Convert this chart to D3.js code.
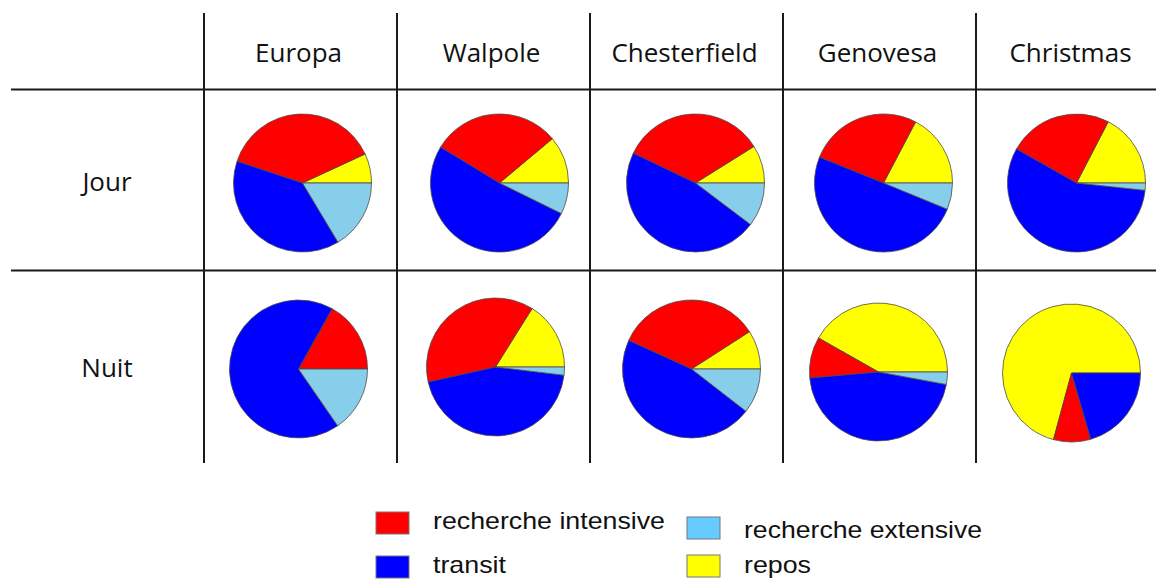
<!DOCTYPE html>
<html lang="fr">
<head>
    <meta charset="utf-8">
    <title>Budget d'activité</title>
    <script src="https://d3js.org/d3.v7.min.js"></script>
    <style>
        body { margin: 0; background: #fff; }
    </style>
</head>
<body>

<script>
    const sites = ["Europa", "Walpole", "Chesterfield", "Genovesa", "Christmas"];
    const periods = ["Jour", "Nuit"];
    const activities = ["repos", "recherche intensive", "transit", "recherche extensive"];

    // % of time, per site (same order as sites)
    const jourRepos     = [6.9, 11.1, 8.9, 17.3, 17.4];
    const jourIntensive = [38.0, 30.2, 34.0, 26.6, 24.4];
    const jourTransit   = [38.7, 51.4, 46.8, 49.9, 56.5];
    const jourExtensive = [16.4, 7.3, 10.3, 6.2, 1.7];

    const nuitRepos     = [0, 16.1, 9.1, 41.8, 70.8];
    const nuitIntensive = [16.9, 37.4, 34.1, 9.6, 8.7];
    const nuitTransit   = [67.7, 44.6, 46.3, 45.7, 20.5];
    const nuitExtensive = [15.4, 1.9, 10.5, 2.9, 0];

    const legendOrder = ["recherche intensive", "transit", "recherche extensive", "repos"];

    const W = 1156, H = 579;
    const radius = 69;

    const color = d3.scaleOrdinal()
            .domain(activities)
            .range(["#ffff00", "#ff0000", "#0000ff", "#87ceeb"]);
    const legendColor = d3.scaleOrdinal()
            .domain(activities)
            .range(["#ffff00", "#ff0000", "#0000ff", "#66ccff"]);

    const x = d3.scaleBand().domain(sites).range([204, 1169]);
    const y = d3.scaleOrdinal().domain(periods).range([183, 369]);

    // small per-pie shifts from the cell centre [dx, dy]
    const nudge = {
        Jour: [[2, 0], [6, 0], [9, 0], [4, 0], [4, 0]],
        Nuit: [[-2, 0], [2, -2], [5, 0], [-1, 3], [-1, 4]]
    };

    const rows = {
        Jour: sites.map((s, i) => [jourRepos[i], jourIntensive[i], jourTransit[i], jourExtensive[i]]),
        Nuit: sites.map((s, i) => [nuitRepos[i], nuitIntensive[i], nuitTransit[i], nuitExtensive[i]])
    };

    const svg = d3.select("body").append("svg")
            .attr("width", W).attr("height", H);

    // grid
    const grid = svg.append("g").attr("stroke", "#1a1a1a").attr("stroke-width", 2);
    sites.forEach(s => {
        grid.append("line")
                .attr("x1", x(s)).attr("x2", x(s))
                .attr("y1", 13).attr("y2", 463);
    });
    [89.5, 270.5].forEach(v => {
        grid.append("line")
                .attr("x1", 11).attr("x2", W)
                .attr("y1", v).attr("y2", v);
    });

    // column headers
    svg.append("g").selectAll("text")
            .data(sites).enter()
            .append("text")
            .attr("x", d => x(d) + x.bandwidth() / 2 - 2)
            .attr("y", 62)
            .attr("text-anchor", "middle")
            .style("font-family", "'Open Sans', sans-serif")
            .style("font-size", "26px")
            .style("fill", "#111")
            .text(d => d);

    // row labels
    svg.append("g").selectAll("text")
            .data(periods).enter()
            .append("text")
            .attr("x", 107)
            .attr("y", d => y(d) + 8)
            .attr("text-anchor", "middle")
            .style("font-family", "'Open Sans', sans-serif")
            .style("font-size", "26px")
            .style("fill", "#111")
            .text(d => d);

    // pies, counter-clockwise from 3 o'clock
    const pie = d3.pie()
            .sort(null)
            .value(d => d.v)
            .startAngle(Math.PI / 2)
            .endAngle(Math.PI / 2 - 2 * Math.PI);
    const arc = d3.arc().innerRadius(0).outerRadius(radius);

    periods.forEach(p => {
        sites.forEach((s, i) => {
            const vals = rows[p][i].map((v, k) => ({ a: activities[k], v: v }));
            const g = svg.append("g")
                    .attr("transform", `translate(${x(s) + x.bandwidth() / 2 + nudge[p][i][0]},${y(p) + nudge[p][i][1]})`);
            g.selectAll("path")
                    .data(pie(vals).filter(d => d.data.v > 0))
                    .enter().append("path")
                    .attr("d", arc)
                    .attr("fill", d => color(d.data.a))
                    .attr("stroke", "#4a4a4a")
                    .attr("stroke-width", 0.8)
                    .attr("stroke-linejoin", "round");
        });
    });

    // legend
    const legendPos = {
        "recherche intensive": { x: 376, y: 512, ty: 529, tl: 232 },
        "transit": { x: 376, y: 556, ty: 573, tl: 73 },
        "recherche extensive": { x: 687, y: 517, ty: 538, tl: 238 },
        "repos": { x: 687, y: 555, ty: 573, tl: 67 }
    };
    const legend = svg.append("g");
    legendOrder.forEach(a => {
        const p = legendPos[a];
        legend.append("rect")
                .attr("x", p.x).attr("y", p.y)
                .attr("width", 33).attr("height", 22)
                .attr("fill", legendColor(a))
                .attr("stroke", "#777")
                .attr("stroke-width", 1);
        legend.append("text")
                .attr("x", p.x + 57)
                .attr("y", p.ty)
                .attr("textLength", p.tl)
                .attr("lengthAdjust", "spacingAndGlyphs")
                .style("font-family", "'Liberation Sans', Arial, sans-serif")
                .style("font-size", "24px")
                .style("fill", "#111")
                .text(a);
    });
</script>

</body>
</html>
